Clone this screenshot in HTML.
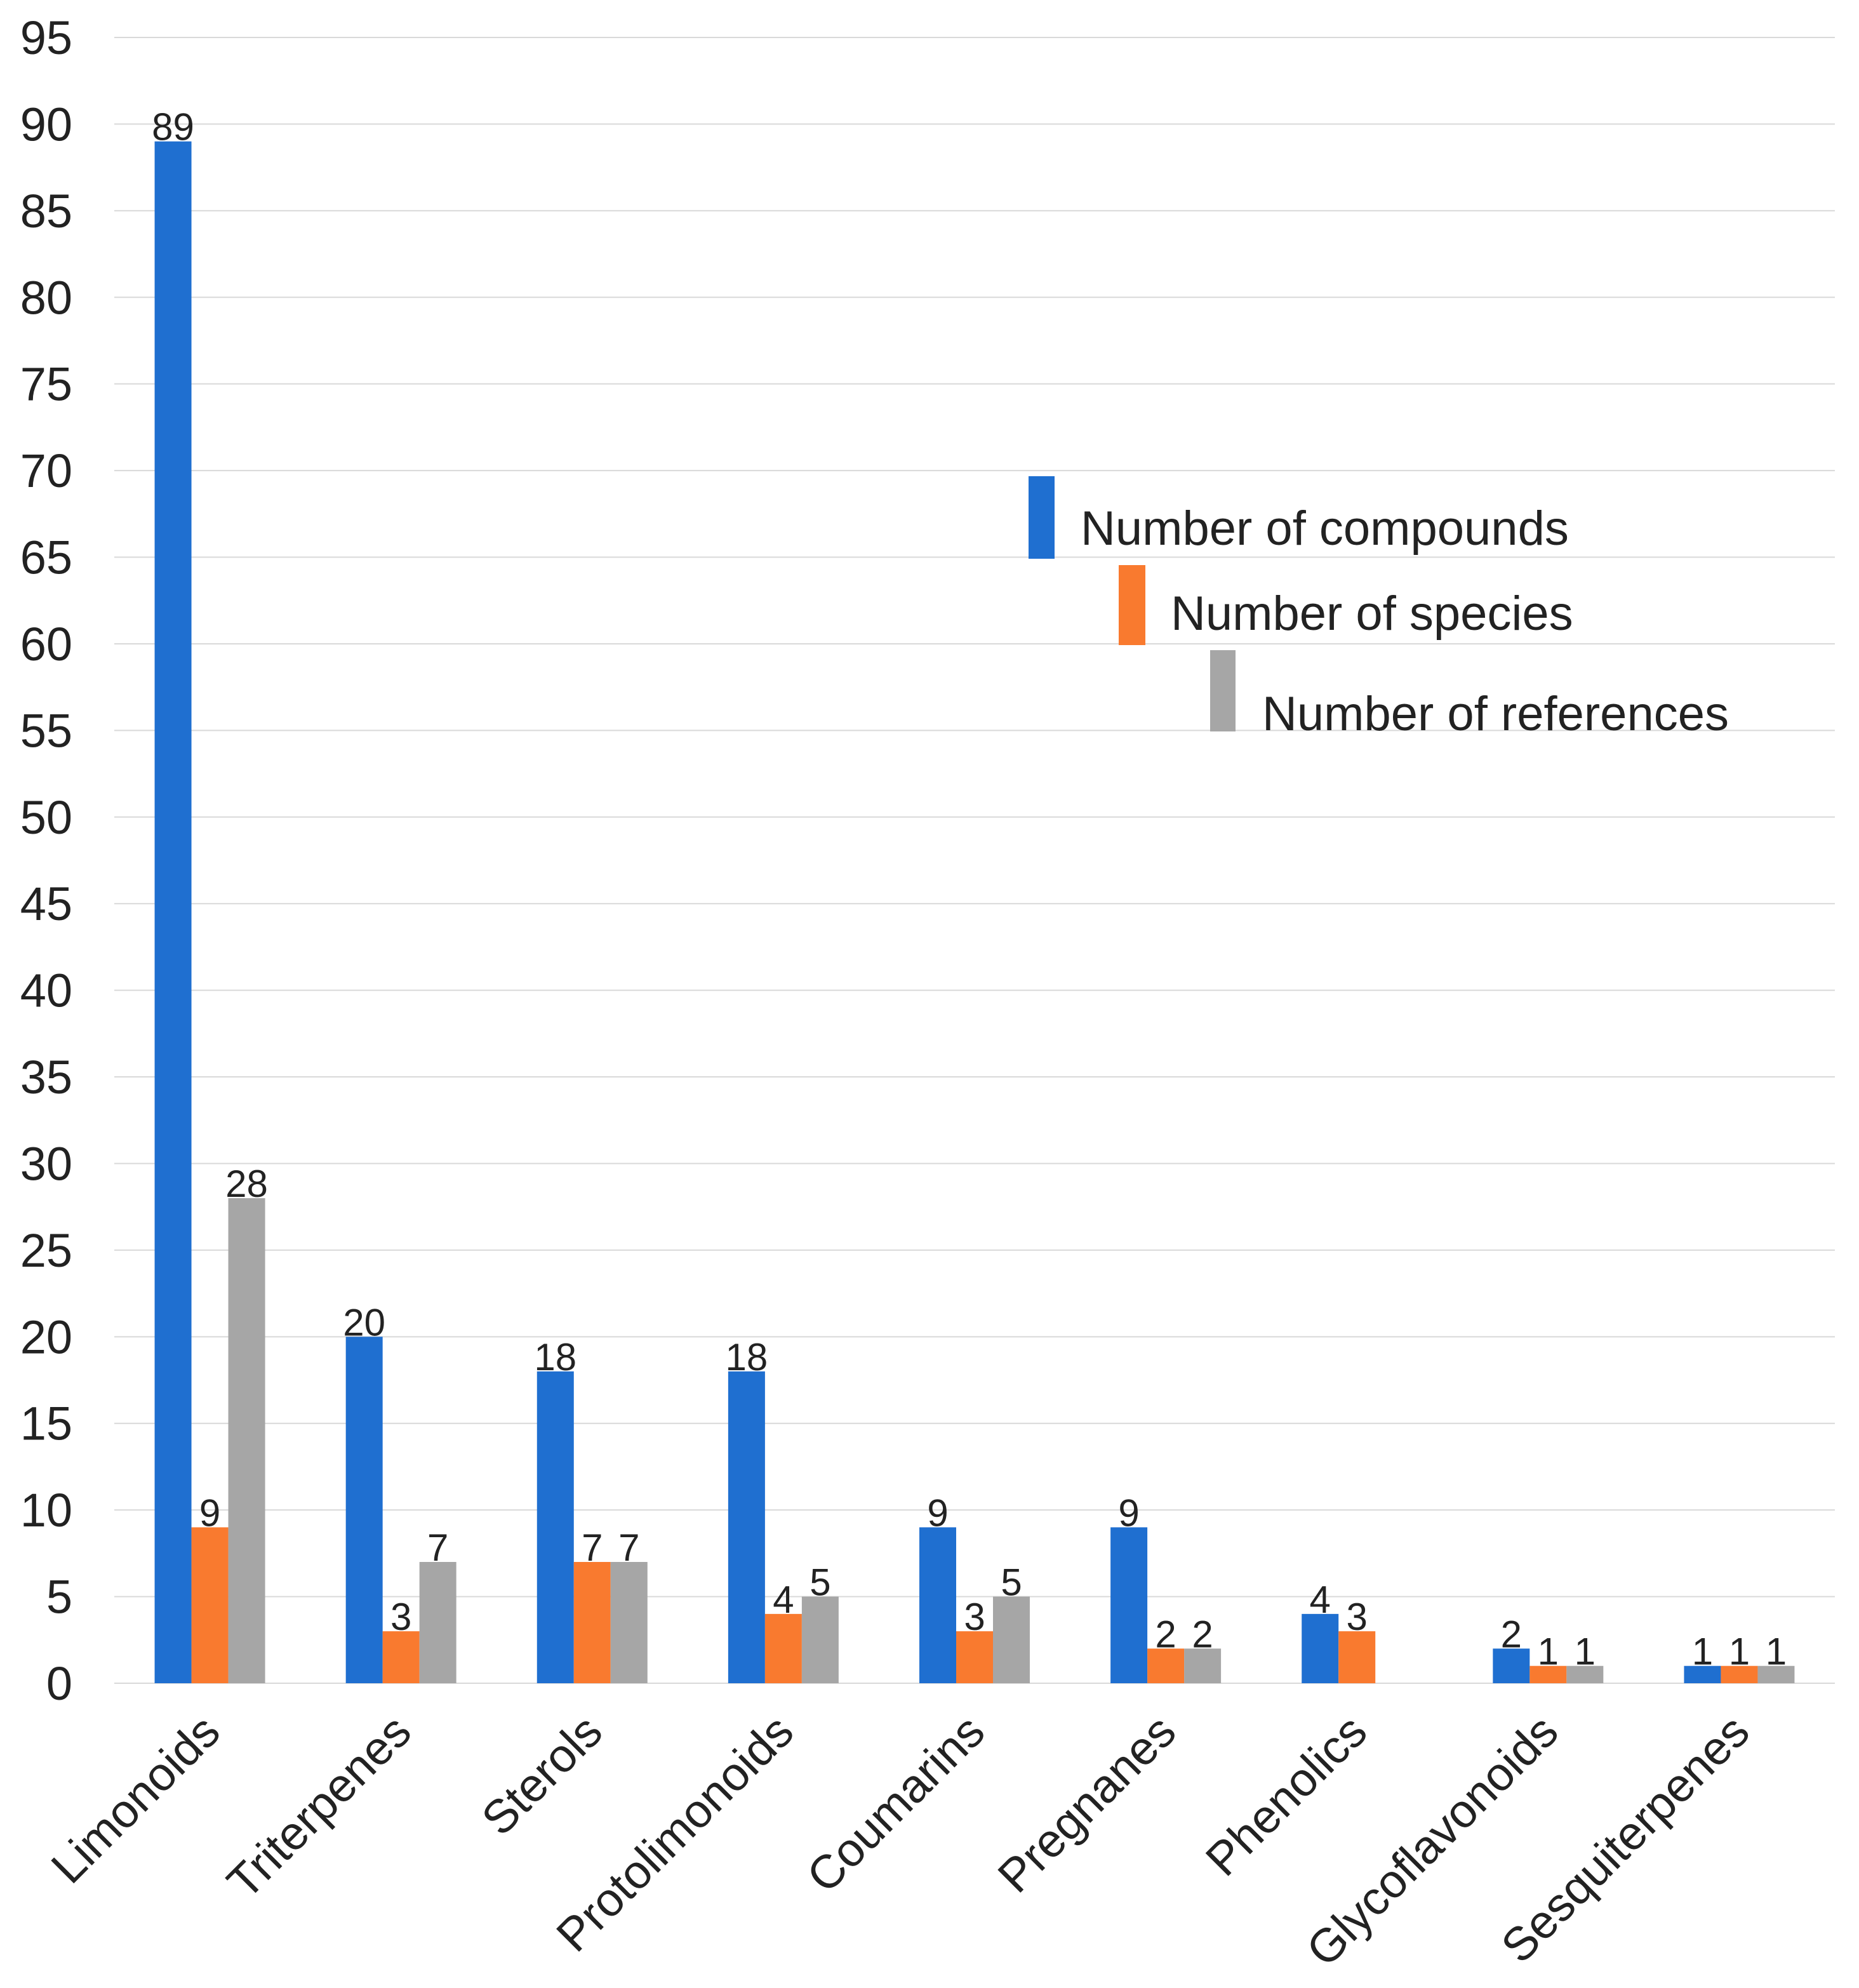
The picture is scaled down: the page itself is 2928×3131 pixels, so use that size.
<!DOCTYPE html>
<html><head><meta charset="utf-8"><style>
html,body{margin:0;padding:0;background:#fff;}
svg{display:block;font-family:"Liberation Sans",Arial,sans-serif;}
</style></head><body>
<svg id="chart" width="2928" height="3131" viewBox="0 0 2928 3131" xmlns="http://www.w3.org/2000/svg">
<g id="grid"></g>
<g id="yaxis"></g>
<g id="bars"></g>
<g id="xaxis"></g>
<g id="legend">
  <rect x="1620" y="750" width="41" height="130" fill="#1f6fd0"/>
  <text x="1702" y="858" font-size="76" fill="#222">Number of compounds</text>
  <rect x="1762" y="890" width="42" height="126" fill="#f97a2f"/>
  <text x="1844" y="992" font-size="76" fill="#222">Number of species</text>
  <rect x="1906" y="1024" width="40" height="128" fill="#a6a6a6"/>
  <text x="1988" y="1150" font-size="76" fill="#222">Number of references</text>
</g>
</svg>
<script>
const categories=["Limonoids","Triterpenes","Sterols","Protolimonoids","Coumarins","Pregnanes","Phenolics","Glycoflavonoids","Sesquiterpenes"];
const compounds=[89,20,18,18,9,9,4,2,1];
const species=[9,3,7,4,3,2,3,1,1];
const references=[28,7,7,5,5,2,0,1,1];
const yTicks=[0,5,10,15,20,25,30,35,40,45,50,55,60,65,70,75,80,85,90,95];
const NS="http://www.w3.org/2000/svg";
const X0=180,X1=2890,Y0=2651,Y95=59,YMAX=95;
const band=(X1-X0)/categories.length, bw=58;
function y(v){return Y0-(Y0-Y95)*v/YMAX;}
function bx(i,s){return X0+band*i+band/2-1.5*bw+s*bw;}
function mk(tag,attrs,parent){const e=document.createElementNS(NS,tag);for(const k in attrs)e.setAttribute(k,attrs[k]);parent.appendChild(e);return e;}
const grid=document.getElementById('grid'),yax=document.getElementById('yaxis'),bars=document.getElementById('bars'),xax=document.getElementById('xaxis');
yTicks.forEach(t=>{
  const l=mk('line',{x1:180,x2:X1,y1:y(t),y2:y(t),stroke:'#d9d9d9','stroke-width':2},grid);
  
  
  const tx=mk('text',{x:114,y:y(t)+26,'text-anchor':'end','font-size':74,fill:'#222'},yax);
  tx.textContent=t;
  
  
});
const series=[[compounds,'#1f6fd0','compounds'],[species,'#f97a2f','species'],[references,'#a6a6a6','references']];
categories.forEach((c,i)=>{
  series.forEach(([arr,col,nm],s)=>{
    const v=arr[i];
    if(v>0){
      const r=mk('rect',{x:bx(i,s),y:y(v),width:bw,height:Y0-y(v),fill:col},bars);
      
      
      const t=mk('text',{x:bx(i,s)+bw/2,y:y(v)-2,'text-anchor':'middle','font-size':60,fill:'#222'},bars);
      t.textContent=v;
      
      
    }
  });
  const cx=X0+band*i+band/2+20, cy=2732;
  const t=mk('text',{x:cx,y:cy,'text-anchor':'end','font-size':74,fill:'#222',transform:`rotate(-45 ${cx} ${cy})`},xax);
  t.textContent=c;
  
  
});
</script>
</body></html>
